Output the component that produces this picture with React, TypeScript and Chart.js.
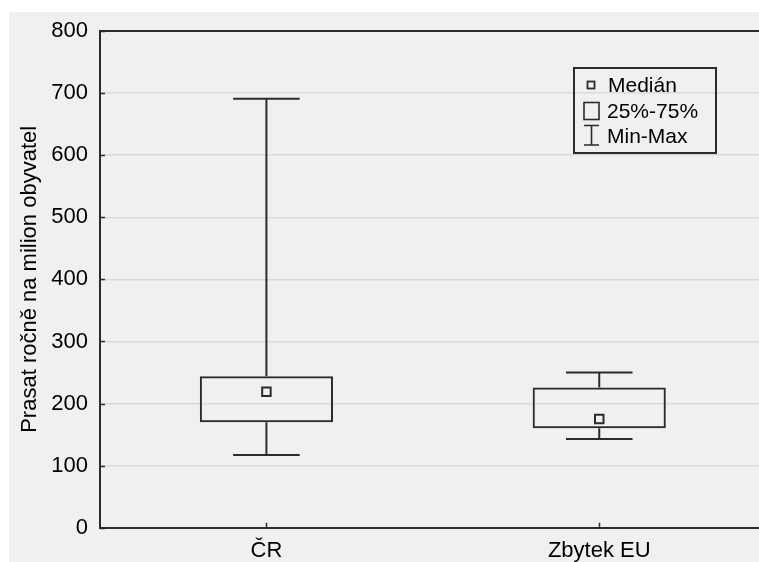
import React, { useEffect, useRef } from 'react';
import { Chart, registerables } from 'chart.js';

Chart.register(...registerables);

// ---- data ----
const categories = ['ČR', 'Zbytek EU'];
const minValues = [117, 143];
const q1Values = [170, 160];
const medianValues = [219, 175];
const q3Values = [244, 226];
const maxValues = [691, 250];
const legendLabels = ['Medián', '25%-75%', 'Min-Max'];
const yTitle = 'Prasat ročně na milion obyvatel';

// ---- style ----
const INK = '#2b2b2b';
const TEXT = '#000000';
const FONT = '"Liberation Sans", Arial, Helvetica, sans-serif';
const CAP = 0.1;

const framePlugin = {
  id: 'frameAndLegend',
  afterDraw(chart: any) {
    const { ctx, chartArea: a, scales } = chart;
    const y = scales.y;
    const x = scales.x;
    ctx.save();
    ctx.strokeStyle = INK;
    ctx.lineWidth = 2;
    ctx.beginPath();
    ctx.moveTo(a.left - 1, a.top);
    ctx.lineTo(chart.width, a.top);
    ctx.stroke();
    ctx.lineWidth = 1.5;
    ctx.beginPath();
    y.ticks.forEach((t: any) => {
      const py = Math.round(y.getPixelForValue(t.value)) + 0.5;
      ctx.moveTo(a.left, py);
      ctx.lineTo(a.left + 5, py);
    });
    x.ticks.forEach((t: any) => {
      const px = Math.round(x.getPixelForValue(t.value)) + 0.5;
      ctx.moveTo(px, a.bottom);
      ctx.lineTo(px, a.bottom - 5);
    });
    ctx.stroke();

    // legend box
    const lx = 565, ly = 56, lw = 142, lh = 85;
    ctx.lineWidth = 2;
    ctx.strokeRect(lx, ly, lw, lh);
    // median symbol
    ctx.lineWidth = 1.8;
    ctx.strokeRect(578.5, 69.5, 7, 7);
    // box symbol
    ctx.lineWidth = 1.6;
    ctx.strokeRect(575, 90.5, 15, 17);
    // min-max symbol
    ctx.beginPath();
    ctx.moveTo(575, 113.5); ctx.lineTo(590, 113.5);
    ctx.moveTo(582.5, 113.5); ctx.lineTo(582.5, 133);
    ctx.moveTo(575, 133); ctx.lineTo(590, 133);
    ctx.stroke();

    ctx.fillStyle = TEXT;
    ctx.font = `21px ${FONT}`;
    ctx.textAlign = 'left';
    ctx.textBaseline = 'alphabetic';
    ctx.fillText(legendLabels[0], 599, 80);
    ctx.fillText(legendLabels[1], 598, 105.5);
    ctx.fillText(legendLabels[2], 598, 131);
    ctx.restore();
  },
};

const boxData = categories.map((_, i) => ({ x: i, y: [q1Values[i], q3Values[i]] }));
const medianData = categories.map((_, i) => ({ x: i, y: medianValues[i] }));
const whiskerSets = categories.flatMap((_, i) => [
  [{ x: i, y: q3Values[i] }, { x: i, y: maxValues[i] }],
  [{ x: i, y: q1Values[i] }, { x: i, y: minValues[i] }],
  [{ x: i - CAP, y: maxValues[i] }, { x: i + CAP, y: maxValues[i] }],
  [{ x: i - CAP, y: minValues[i] }, { x: i + CAP, y: minValues[i] }],
]);

export default function App() {
  const ref = useRef<HTMLCanvasElement | null>(null);
  useEffect(() => {
    if (!ref.current) return;
    const datasets: any[] = [
      {
        type: 'bar',
        label: legendLabels[1],
        data: boxData,
        backgroundColor: 'rgba(0,0,0,0)',
        borderColor: INK,
        borderWidth: 2,
        borderSkipped: false,
        barPercentage: 1,
        categoryPercentage: 0.4,
        order: 2,
      },
      ...whiskerSets.map((data) => ({
        type: 'line',
        label: legendLabels[2],
        data,
        borderColor: INK,
        borderWidth: 2,
        pointRadius: 0,
        fill: false,
        tension: 0,
        order: 1,
      })),
      {
        type: 'scatter',
        label: legendLabels[0],
        data: medianData,
        pointStyle: 'rect',
        pointRadius: 6,
        backgroundColor: 'rgba(0,0,0,0)',
        borderColor: INK,
        borderWidth: 2,
        order: 0,
      },
    ];
    const chart = new Chart(ref.current, {
      type: 'bar',
      data: { datasets },
      options: {
        responsive: false,
        animation: false,
        layout: { padding: { top: 19, left: 0, right: 0, bottom: 0 } },
        plugins: { legend: { display: false }, tooltip: { enabled: false } },
        scales: {
          x: {
            type: 'linear',
            min: -0.5,
            max: 1.483,
            offset: false,
            afterBuildTicks: (s: any) => {
              s.ticks = categories.map((_, i) => ({ value: i }));
            },
            afterFit: (s: any) => {
              s.height = 34.3;
              s.paddingLeft = 0;
              s.paddingRight = 0;
              s.paddingTop = 0;
              s.paddingBottom = 0;
            },
            grid: { display: false, drawTicks: false },
            border: { display: true, color: INK, width: 2 },
            ticks: {
              padding: 10,
              color: TEXT,
              autoSkip: false,
              maxRotation: 0,
              font: { size: 22, family: FONT },
              callback: (v: any) => categories[v] ?? '',
            },
          },
          y: {
            type: 'linear',
            min: 0,
            max: 800,
            afterFit: (s: any) => {
              s.width = 91;
              s.paddingTop = 0;
              s.paddingBottom = 0;
              s.paddingLeft = 0;
              s.paddingRight = 0;
            },
            grid: { color: '#d9d9d9', lineWidth: 1.5, drawTicks: false },
            border: { display: true, color: INK, width: 2 },
            ticks: {
              stepSize: 100,
              padding: 12,
              color: TEXT,
              font: { size: 22, family: FONT },
            },
            title: {
              display: true,
              text: yTitle,
              color: TEXT,
              font: { size: 22, family: FONT },
              padding: { top: 8, bottom: 0 },
            },
          },
        },
      } as any,
      plugins: [framePlugin],
    } as any);
    return () => chart.destroy();
  }, []);
  return (
    <div
      style={{
        position: 'absolute',
        left: 9,
        top: 12,
        width: 750,
        height: 550,
        overflow: 'hidden',
        background: '#f0f0f0',
      }}
    >
      <canvas ref={ref} width={759} height={550} style={{ display: 'block' }} />
    </div>
  );
}
